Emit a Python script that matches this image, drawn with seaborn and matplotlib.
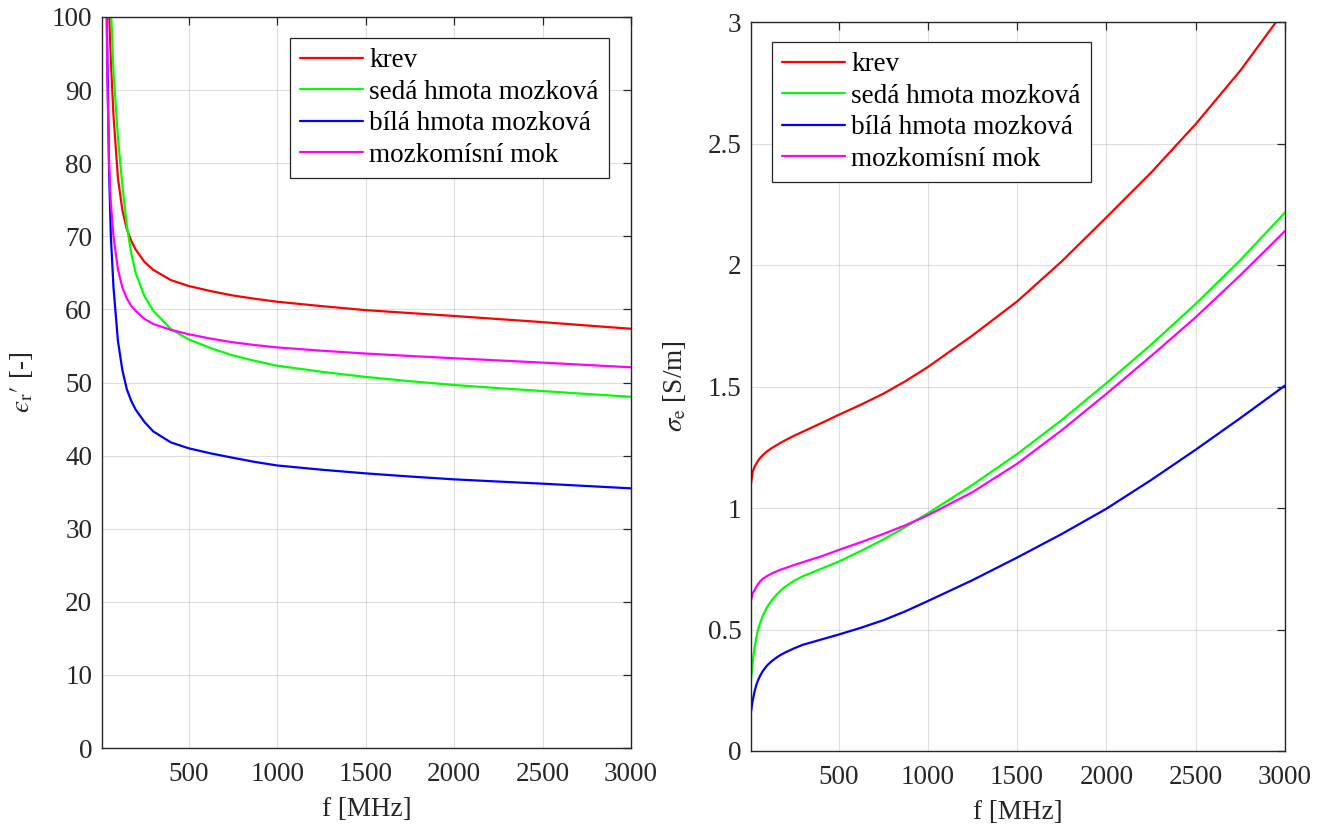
import numpy as np
import pandas as pd
import matplotlib
matplotlib.use("Agg")
import matplotlib.pyplot as plt
from matplotlib.ticker import FuncFormatter, MultipleLocator
from matplotlib.lines import Line2D
import seaborn as sns

# ---------------- data ----------------
freq = [10, 20, 30, 40, 50, 60, 75, 100, 125, 150, 175, 200, 250, 300, 400,
        500, 625, 750, 875, 1000, 1250, 1500, 1750, 2000, 2250, 2500, 2750, 3000]

tissues = ["krev", "sedá hmota mozková", "bílá hmota mozková", "mozkomísní mok"]
colors = ["#ff0000", "#00ff00", "#0000ff", "#ff00ff"]

# relative permittivity eps_r'
eps_krev = [250, 160, 135, 116, 101, 94, 86.5, 78, 73.6, 71, 69.4, 68.2, 66.5, 65.4, 64.0,
            63.2, 62.5, 61.9, 61.45, 61.05, 60.45, 59.9, 59.5, 59.1, 58.68, 58.26, 57.8, 57.35]
eps_seda = [400, 250, 175, 130, 112, 101.5, 92.5, 83.5, 77, 71.5, 67.7, 65.0, 61.8, 59.8, 57.3,
            55.9, 54.7, 53.7, 52.95, 52.3, 51.47, 50.76, 50.18, 49.66, 49.23, 48.83, 48.43, 48.05]
eps_bila = [250, 150, 115, 95, 79, 70, 63, 55.7, 51.7, 49.1, 47.5, 46.3, 44.6, 43.3, 41.8,
            41.0, 40.3, 39.7, 39.13, 38.65, 38.07, 37.57, 37.14, 36.75, 36.45, 36.16, 35.84, 35.52]
eps_mok = [300, 170, 115, 92, 80, 74.5, 70, 65.5, 63.0, 61.5, 60.5, 59.8, 58.7, 58.0, 57.2,
           56.6, 56.0, 55.5, 55.12, 54.8, 54.35, 53.96, 53.63, 53.32, 53.02, 52.72, 52.4, 52.08]

# conductivity sigma_e [S/m]
sig_krev = [1.10, 1.15, 1.17, 1.183, 1.195, 1.205, 1.217, 1.233, 1.246, 1.257, 1.268, 1.278, 1.297, 1.314, 1.348,
            1.383, 1.425, 1.47, 1.522, 1.58, 1.71, 1.85, 2.015, 2.196, 2.38, 2.58, 2.80, 3.05]
sig_seda = [0.295, 0.37, 0.425, 0.468, 0.50, 0.525, 0.555, 0.592, 0.619, 0.641, 0.659, 0.675, 0.70, 0.719, 0.749,
            0.779, 0.823, 0.870, 0.922, 0.978, 1.095, 1.222, 1.362, 1.514, 1.672, 1.84, 2.02, 2.216]
sig_bila = [0.162, 0.21, 0.245, 0.272, 0.292, 0.308, 0.328, 0.352, 0.369, 0.383, 0.395, 0.405, 0.422, 0.437, 0.458,
            0.479, 0.507, 0.538, 0.575, 0.617, 0.703, 0.796, 0.893, 0.997, 1.115, 1.24, 1.37, 1.504]
sig_mok = [0.62, 0.65, 0.662, 0.676, 0.687, 0.697, 0.708, 0.72, 0.73, 0.738, 0.746, 0.752, 0.765, 0.777, 0.80,
           0.827, 0.859, 0.893, 0.929, 0.970, 1.065, 1.182, 1.32, 1.47, 1.625, 1.785, 1.958, 2.14]

x_ticks = [500, 1000, 1500, 2000, 2500, 3000]

# ---------------- build long tables ----------------
def long_df(series):
    rows = []
    for name, vals in zip(tissues, series):
        for f, v in zip(freq, vals):
            rows.append({"f": f, "val": v, "tkan": name})
    return pd.DataFrame(rows)

df_eps = long_df([eps_krev, eps_seda, eps_bila, eps_mok])
df_sig = long_df([sig_krev, sig_seda, sig_bila, sig_mok])

# ---------------- style ----------------
sns.set_theme(style="white")
plt.rcParams["font.family"] = ["Liberation Serif", "DejaVu Serif"]
plt.rcParams["mathtext.fontset"] = "stix"
plt.rcParams["axes.unicode_minus"] = False

FS = 19.5
LW = 1.6
W, H = 1327, 827
fig = plt.figure(figsize=(W / 100, H / 100), dpi=100)
fig.patch.set_facecolor("white")

ax1 = fig.add_axes([102 / W, 1 - 748 / H, (631 - 102) / W, (748 - 17) / H])
ax2 = fig.add_axes([751 / W, 1 - 751 / H, (1285 - 751) / W, (751 - 22) / H])

palette = dict(zip(tissues, colors))

for ax, df in ((ax1, df_eps), (ax2, df_sig)):
    sns.lineplot(data=df, x="f", y="val", hue="tkan", hue_order=tissues,
                 palette=palette, estimator=None, sort=False, linewidth=LW,
                 ax=ax, legend=False)

def style_axes(ax):
    ax.set_facecolor("white")
    ax.grid(True, color="#000000", alpha=0.13, linewidth=0.8)
    for s in ax.spines.values():
        s.set_visible(True)
        s.set_color("#262626")
        s.set_linewidth(1.0)
    ax.tick_params(axis="both", which="both", direction="in", length=6, width=0.9,
                   top=True, right=True, colors="#262626", labelsize=FS,
                   labelcolor="#262626")
    ax.tick_params(axis="x", pad=10)
    ax.tick_params(axis="y", pad=7)
    ax.set_xlim(10, 3000)
    ax.set_xticks(x_ticks)
    ax.set_xlabel("f [MHz]", fontsize=FS, color="#262626", labelpad=7)

style_axes(ax1)
style_axes(ax2)

ax1.set_ylim(0, 100)
ax1.yaxis.set_major_locator(MultipleLocator(10))
ax1.set_ylabel("$\u03f5_{\\mathrm{r}}\\prime$ [-]", fontsize=FS, color="#262626", labelpad=12)

ax2.set_ylim(0, 3)
ax2.yaxis.set_major_locator(MultipleLocator(0.5))
ax2.yaxis.set_major_formatter(FuncFormatter(lambda v, p: "%g" % v))
ax2.set_ylabel(r"$\sigma_{\mathrm{e}}$ [S/m]", fontsize=FS, color="#262626", labelpad=14)

# ---------------- legends ----------------
handles = [Line2D([0], [0], color=c, linewidth=LW) for c in colors]

def make_legend(ax, loc, anchor):
    leg = ax.legend(handles, tissues, loc=loc, bbox_to_anchor=anchor, fontsize=FS,
                    frameon=True, fancybox=False, framealpha=1, edgecolor="#262626",
                    handlelength=2.3, handletextpad=0.25, labelspacing=0.24,
                    borderpad=0.38, borderaxespad=0)
    leg.get_frame().set_linewidth(0.9)
    for t in leg.get_texts():
        t.set_color("#000000")
    return leg

make_legend(ax1, "upper right", ((609 - 102) / (631 - 102), (748 - 38) / (748 - 17)))
make_legend(ax2, "upper left", ((772 - 751) / (1285 - 751), (751 - 42) / (751 - 22)))

fig.savefig("out.png", dpi=100, facecolor="white")
